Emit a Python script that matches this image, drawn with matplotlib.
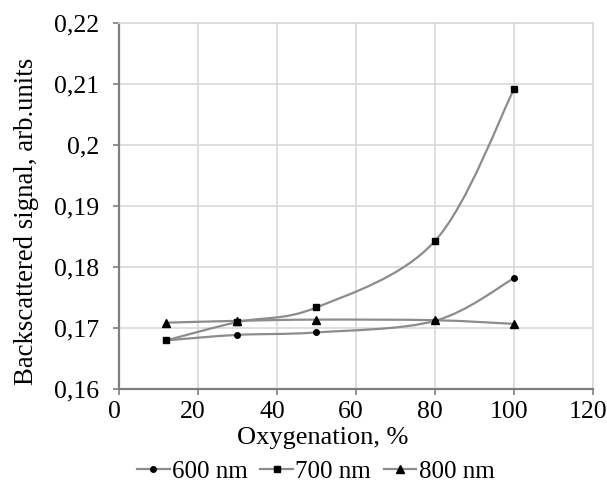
import numpy as np
import matplotlib
matplotlib.use('Agg')
import matplotlib.pyplot as plt
import matplotlib.transforms as mtransforms
from matplotlib.path import Path
from matplotlib.patches import PathPatch
from matplotlib.ticker import FuncFormatter

# data
oxygenation = [12, 30, 50, 80, 100]
s600 = [0.1680, 0.1689, 0.1693, 0.1712, 0.1782]
s700 = [0.1680, 0.1710, 0.1734, 0.1843, 0.2092]
s800 = [0.1709, 0.1712, 0.1714, 0.1713, 0.1707]
labels = ['600 nm', '700 nm', '800 nm']
markers = ['o', 's', '^']
msizes = [4, 5, 5.5]

plt.rcParams['font.family'] = ['Liberation Serif', 'DejaVu Serif']

def smooth_path(x, y):
    # Excel-like smoothed line: Catmull-Rom segments as cubic Bezier curves
    x = np.asarray(x, float); y = np.asarray(y, float)
    verts = [(x[0], y[0])]; codes = [Path.MOVETO]
    n = len(x)
    for i in range(n - 1):
        p0 = (x[max(i-1, 0)], y[max(i-1, 0)])
        p1 = (x[i], y[i]); p2 = (x[i+1], y[i+1])
        p3 = (x[min(i+2, n-1)], y[min(i+2, n-1)])
        c1 = (p1[0] + (p2[0]-p0[0])/6, p1[1] + (p2[1]-p0[1])/6)
        c2 = (p2[0] - (p3[0]-p1[0])/6, p2[1] - (p3[1]-p1[1])/6)
        verts += [c1, c2, p2]; codes += [Path.CURVE4]*3
    return Path(verts, codes)

fig = plt.figure(figsize=(6.07, 4.84), dpi=100)
ax = fig.add_axes([0.196, 0.196, 0.781, 0.756])

handles = []
for ys, lab, m, ms in zip([s600, s700, s800], labels, markers, msizes):
    ax.add_patch(PathPatch(smooth_path(oxygenation, ys), fill=False,
                           edgecolor='#8c8c8c', lw=1.6, zorder=3))
    ax.plot(oxygenation, ys, ls='none', marker=m, ms=ms, color='black', zorder=4)
    h, = ax.plot([], [], color='#8c8c8c', lw=1.6, marker=m, ms=ms,
                 mfc='black', mec='black', label=lab)
    handles.append(h)

ax.set_xlim(0, 120)
ax.set_ylim(0.16, 0.22)
ax.set_xticks(np.arange(0, 121, 20))
ax.set_yticks(np.arange(0.16, 0.2201, 0.01))
ax.yaxis.set_major_formatter(FuncFormatter(lambda v, p: ('%g' % round(v, 3)).replace('.', ',')))

ax.grid(True, color='#d9d9d9', lw=1.2)
ax.set_axisbelow(True)
for s in ['top', 'right']:
    ax.spines[s].set_color('#d9d9d9')
    ax.spines[s].set_linewidth(1.2)
for s in ['left', 'bottom']:
    ax.spines[s].set_color('#7f7f7f')
    ax.spines[s].set_linewidth(1.6)
ax.tick_params(axis='both', direction='out', length=4, width=1.2,
               color='#7f7f7f', labelsize=18.5)
ax.tick_params(axis='y', pad=10.5)
ax.tick_params(axis='x', pad=4.5)

# Excel puts the x labels a bit left of the ticks
shift = mtransforms.ScaledTranslation(-5/100, 0, fig.dpi_scale_trans)
for lbl in ax.get_xticklabels():
    lbl.set_transform(lbl.get_transform() + shift)

ax.set_xlabel('Oxygenation, %', fontsize=19)
ax.xaxis.set_label_coords(0.43, -0.103)
ax.set_ylabel('Backscattered signal, arb.units', fontsize=19.3)
ax.yaxis.set_label_coords(-0.168, 0.459)

fig.legend(handles=handles, loc='center', bbox_to_anchor=(0.52, 0.025), ncol=3,
           frameon=False, fontsize=18, handlelength=1.3, handletextpad=0.1,
           columnspacing=0.5, borderaxespad=0, borderpad=0)

fig.savefig('out.png', dpi=100)
